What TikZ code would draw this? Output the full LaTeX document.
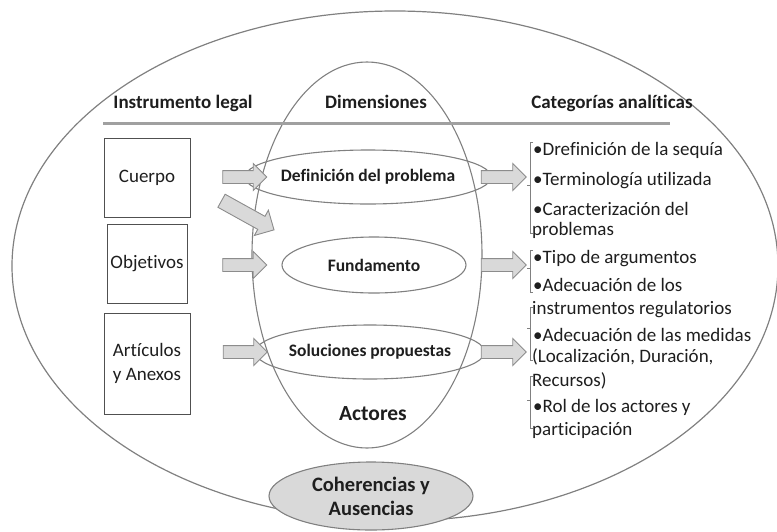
\documentclass[tikz,border=0pt]{standalone}
\usepackage{fontspec}
\setmainfont{Carlito}[Ligatures={NoCommon,NoContextual}, Contextuals=NoAlternate]
\usetikzlibrary{shapes.geometric,shapes.arrows}

\definecolor{outline}{HTML}{808080}
\definecolor{rulegray}{HTML}{A0A0A0}
\definecolor{boxline}{HTML}{505050}
\definecolor{arrowfill}{HTML}{D9D9D9}
\definecolor{arrowline}{HTML}{8C8C8C}
\definecolor{ink}{HTML}{1E1E1E}

\tikzset{
  header/.style={anchor=base, font=\fontsize{19}{22}\selectfont\bfseries, text=ink, inner sep=0pt},
  docbox/.style={draw=boxline, line width=0.9pt, inner sep=0pt, align=center,
    font=\fontsize{19}{24}\selectfont, text=ink},
  dimension/.style={ellipse, draw=outline, line width=1.1pt, inner sep=0pt,
    font=\fontsize{17.5}{20}\selectfont\bfseries, text=ink},
  blockarrow/.style={single arrow, draw=arrowline, fill=arrowfill, line width=0.9pt,
    inner xsep=0pt, inner ysep=6pt, minimum width=0pt, single arrow head extend=7pt,
    single arrow head indent=0pt},
  category/.style={anchor=base west, inner sep=0pt, font=\fontsize{19}{21}\selectfont, text=ink},
  bracketline/.style={draw=outline, line width=0.7pt},
}

\begin{document}
\begin{tikzpicture}[x=1pt, y=-1pt]
\useasboundingbox (0,0) rectangle (777,531);

% large frame ellipse and the dimensions ellipse
\node[ellipse, draw=outline, line width=1.2pt, minimum width=766pt, minimum height=510pt, inner sep=0pt] (frame) at (395,266) {};
\node[ellipse, draw=outline, line width=1.1pt, minimum width=230pt, minimum height=386pt, inner sep=0pt] (dims) at (367,255) {};

% column headers and rule
\node[header] (hInst) at (183,108) {Instrumento legal};
\node[header] (hDim) at (376,108) {Dimensiones};
\node[header] (hCat) at (612,108) {Categorías analíticas};
\coordinate (ruleL) at (103,123);
\coordinate (ruleR) at (670,123);
\draw[rulegray, line width=3pt] (ruleL) -- (ruleR);

% legal instrument boxes
\node[docbox, minimum width=86pt, minimum height=79pt] (cuerpo) at (147,177.5) {Cuerpo};
\node[docbox, minimum width=80pt, minimum height=79pt] (objetivos) at (147,263.5) {Objetivos};
\node[docbox, minimum width=86pt, minimum height=101pt] (articulos) at (147,363.5) {Artículos\\y Anexos};

% dimensions
\node[dimension, minimum width=186pt, minimum height=54pt] (def) at (368,177) {Definición del problema};
\node[dimension, minimum width=184pt, minimum height=56pt] (fund) at (374,265) {Fundamento};
\node[dimension, minimum width=190pt, minimum height=54pt] (sol) at (370,352) {Soluciones propuestas};
\node[anchor=base, inner sep=0pt, font=\fontsize{21.5}{24}\selectfont\bfseries, text=ink] (actores) at (373,420) {Actores};

% block arrows into the dimensions
\node[blockarrow, minimum height=44pt] (a1) at (241.5,177) {};
\node[blockarrow, minimum height=60pt, inner ysep=7pt, rotate=-29] (a2) at (244.5,213.5) {};
\node[blockarrow, minimum height=44pt] (a3) at (241.5,265) {};
\node[blockarrow, minimum height=44pt] (a4) at (242,352) {};

% block arrows to the categories
\node[blockarrow, minimum height=45pt] (b1) at (500.5,177) {};
\node[blockarrow, minimum height=45pt] (b2) at (500.5,265) {};
\node[blockarrow, minimum height=45pt] (b3) at (500.5,352) {};

% brackets grouping the categories
\draw[bracketline] (533,142) -- (530.5,142) -- (530.5,233) -- (533,233);
\draw[bracketline] (530.5,185) -- (527,185);
\draw[bracketline] (533,250) -- (530.5,250) -- (530.5,292) -- (533,292);
\draw[bracketline] (530.5,268) -- (527,268);
\draw[bracketline] (533,307) -- (530.5,307) -- (530.5,360) -- (533,360);
\draw[bracketline] (530.5,328) -- (527,328);
\draw[bracketline] (533,376) -- (530.5,376) -- (530.5,428) -- (533,428);
\draw[bracketline] (530.5,400) -- (527,400);

% analytic categories
\node[category] (c1) at (533,155) {•Drefinición de la sequía};
\node[category] (c2) at (533,185) {•Terminología utilizada};
\node[category] (c3) at (533,215) {•Caracterización del};
\node[category] (c4) at (532,235) {problemas};
\node[category] (c5) at (533,263) {•Tipo de argumentos};
\node[category] (c6) at (533,291) {•Adecuación de los};
\node[category] (c7) at (532,314) {instrumentos regulatorios};
\node[category] (c8) at (533,341) {•Adecuación de las medidas};
\node[category] (c9) at (532,362) {(Localización, Duración,};
\node[category] (c10) at (532,386) {Recursos)};
\node[category] (c11) at (533,412) {•Rol de los actores y};
\node[category] (c12) at (532,435) {participación};

% result ellipse at the bottom
\node[ellipse, draw=outline, fill=arrowfill, line width=1.1pt, minimum width=204pt, minimum height=68pt,
  inner sep=0pt, align=center, font=\fontsize{20.5}{24}\selectfont\bfseries, text=ink] (coh) at (371,496)
  {Coherencias y\\Ausencias};
\end{tikzpicture}
\end{document}
